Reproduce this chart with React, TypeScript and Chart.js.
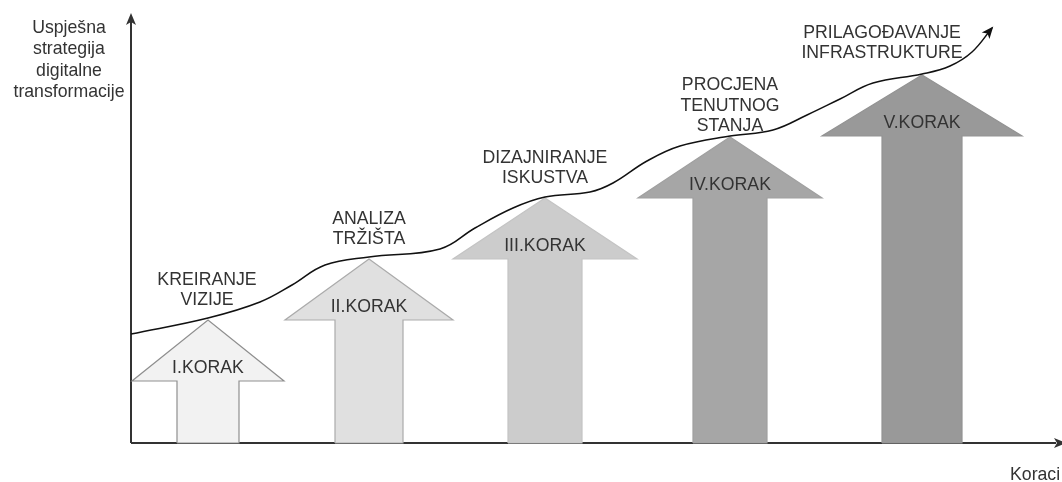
import React, { useEffect, useRef } from "react";
import { Chart, registerables } from "chart.js";

Chart.register(...registerables);

// ---------------- data ----------------
const steps = ["I.KORAK", "II.KORAK", "III.KORAK", "IV.KORAK", "V.KORAK"];
const stepTitles = [
  ["KREIRANJE", "VIZIJE"],
  ["ANALIZA", "TRŽIŠTA"],
  ["DIZAJNIRANJE", "ISKUSTVA"],
  ["PROCJENA", "TENUTNOG", "STANJA"],
  ["PRILAGOĐAVANJE", "INFRASTRUKTURE"],
];
// position of each step along the "Koraci" axis
const stepPositions = [77, 238, 414, 599, 791];
// level of success reached by each step (arrow tip)
const stepLevels = [123, 184, 245, 306, 368];

// success curve of the digital transformation
const curveX = [0, 77, 129, 161, 194, 238, 309, 344, 382, 414, 459, 482, 516, 549, 599, 642, 676, 709, 742, 791, 819, 841, 861];
const curveY = [109, 125, 141, 158, 178, 186, 194, 215, 235, 246, 251, 260, 282, 297, 307, 313, 328, 344, 360, 369, 377, 391, 415];

const yAxisTitle = ["Uspješna", "strategija", "digitalne", "transformacije"];
const xAxisTitle = "Koraci";

// ---------------- style ----------------
const W = 1062;
const H = 482;
const PAD = { left: 131, right: 0, top: 0, bottom: 39 };
const X_MAX = 931;
const Y_MAX = 443;
const HEAD_LEN = 61;
const headHalf = [76, 84, 92, 92, 100];
const shaftHalf = [31, 34, 37, 37, 40];
const fills = ["#f2f2f2", "#e0e0e0", "#cccccc", "#a6a6a6", "#999999"];
const strokes = ["#8f8f8f", "#ababab", "#c4c4c4", "#a0a0a0", "#939393"];
const titleDx = [-1, 0, 0, 0, -40];
const titleDy = [15, 15, 15, 6, 17];
const FONT = "17.7px 'Liberation Sans', Arial, Helvetica, sans-serif";
const TEXT = "#333333";
const AXIS = "#333333";

function arrowPoints(i: number) {
  const c = stepPositions[i];
  const t = stepLevels[i];
  const b = t - HEAD_LEN;
  const hw = headHalf[i];
  const sw = shaftHalf[i];
  return [
    { x: c - sw, y: 0 },
    { x: c - sw, y: b },
    { x: c - hw, y: b },
    { x: c, y: t },
    { x: c + hw, y: b },
    { x: c + sw, y: b },
    { x: c + sw, y: 0 },
    { x: c - sw, y: 0 },
  ];
}

function arrowHead(ctx: CanvasRenderingContext2D, tx: number, ty: number, ang: number, len = 12, half = 5) {
  const back = len * 0.75;
  const cos = Math.cos(ang), sin = Math.sin(ang);
  const p = (dx: number, dy: number) => [tx + dx * cos - dy * sin, ty + dx * sin + dy * cos];
  const a = p(-len, -half);
  const m = p(-back, 0);
  const b = p(-len, half);
  ctx.beginPath();
  ctx.moveTo(tx, ty);
  ctx.lineTo(a[0], a[1]);
  ctx.lineTo(m[0], m[1]);
  ctx.lineTo(b[0], b[1]);
  ctx.closePath();
  ctx.fill();
}

const diagramPlugin = {
  id: "diagram",
  beforeDatasetsDraw(chart: any) {
    const { ctx, scales } = chart;
    const x = scales.x, y = scales.y;
    const x0 = x.getPixelForValue(0);
    const y0 = y.getPixelForValue(0);
    ctx.save();
    ctx.strokeStyle = AXIS;
    ctx.lineWidth = 2;
    ctx.beginPath();
    ctx.moveTo(x0, y0);
    ctx.lineTo(x0, y.getPixelForValue(Y_MAX - 22));
    ctx.moveTo(x0, y0);
    ctx.lineTo(x.getPixelForValue(X_MAX - 6), y0);
    ctx.stroke();
    ctx.fillStyle = AXIS;
    arrowHead(ctx, x0, y.getPixelForValue(Y_MAX - 13), -Math.PI / 2, 12, 5);
    arrowHead(ctx, x.getPixelForValue(X_MAX + 4), y0, 0, 12, 5);
    ctx.restore();
  },
  afterDatasetsDraw(chart: any) {
    const { ctx, scales } = chart;
    const x = scales.x, y = scales.y;
    ctx.save();
    // curve arrow head
    const n = curveX.length;
    const px1 = x.getPixelForValue(curveX[n - 2]);
    const py1 = y.getPixelForValue(curveY[n - 2]);
    const px2 = x.getPixelForValue(curveX[n - 1]);
    const py2 = y.getPixelForValue(curveY[n - 1]);
    const ang = Math.atan2(py2 - py1, px2 - px1);
    ctx.fillStyle = "#111111";
    arrowHead(ctx, px2 + Math.cos(ang) * 2, py2 + Math.sin(ang) * 2, ang, 12, 5);

    ctx.font = FONT;
    ctx.fillStyle = TEXT;
    ctx.textAlign = "center";
    ctx.textBaseline = "alphabetic";
    // step labels inside arrows
    steps.forEach((s, i) => {
      const cx = x.getPixelForValue(stepPositions[i]);
      const by = y.getPixelForValue(stepLevels[i] - HEAD_LEN);
      ctx.fillText(s, cx, by - 8);
    });
    // step titles
    stepTitles.forEach((lines, i) => {
      const cx = x.getPixelForValue(stepPositions[i]) + titleDx[i];
      const ly = y.getPixelForValue(stepLevels[i]) - titleDy[i];
      const lh = 20.5;
      lines.forEach((l, k) => {
        ctx.fillText(l, cx, ly - (lines.length - 1 - k) * lh);
      });
    });
    // axis titles
    yAxisTitle.forEach((l, k) => {
      ctx.fillText(l, 69, 33 + k * 21.3);
    });
    ctx.textAlign = "left";
    ctx.fillText(xAxisTitle, 1010, 480);
    ctx.restore();
  },
};

export default function App() {
  const ref = useRef<HTMLCanvasElement>(null);
  useEffect(() => {
    document.body.style.margin = "0";
    const canvas = ref.current;
    if (!canvas) return;
    const arrowSets = steps.map((s, i) => ({
      label: s,
      data: arrowPoints(i),
      showLine: true,
      fill: "shape",
      backgroundColor: fills[i],
      borderColor: strokes[i],
      borderWidth: 1.2,
      pointRadius: 0,
      tension: 0,
      order: 1,
      clip: false,
    }));
    const curve = {
      label: "Uspješnost",
      data: curveX.map((v, i) => ({ x: v, y: curveY[i] })),
      showLine: true,
      fill: false,
      borderColor: "#111111",
      borderWidth: 1.5,
      pointRadius: 0,
      tension: 0.4,
      order: 0,
      clip: false,
    };
    const chart = new Chart(canvas, {
      type: "scatter",
      data: { datasets: [curve, ...arrowSets] as any },
      options: {
        animation: false,
        responsive: false,
        events: [],
        layout: { padding: PAD },
        plugins: { legend: { display: false }, tooltip: { enabled: false } },
        scales: {
          x: { type: "linear", min: 0, max: X_MAX, display: false },
          y: { type: "linear", min: 0, max: Y_MAX, display: false },
        },
      } as any,
      plugins: [diagramPlugin],
    });
    return () => chart.destroy();
  }, []);
  return (
    <div style={{ width: W, height: H, background: "#ffffff" }}>
      <canvas ref={ref} width={W} height={H} style={{ display: "block" }} />
    </div>
  );
}
